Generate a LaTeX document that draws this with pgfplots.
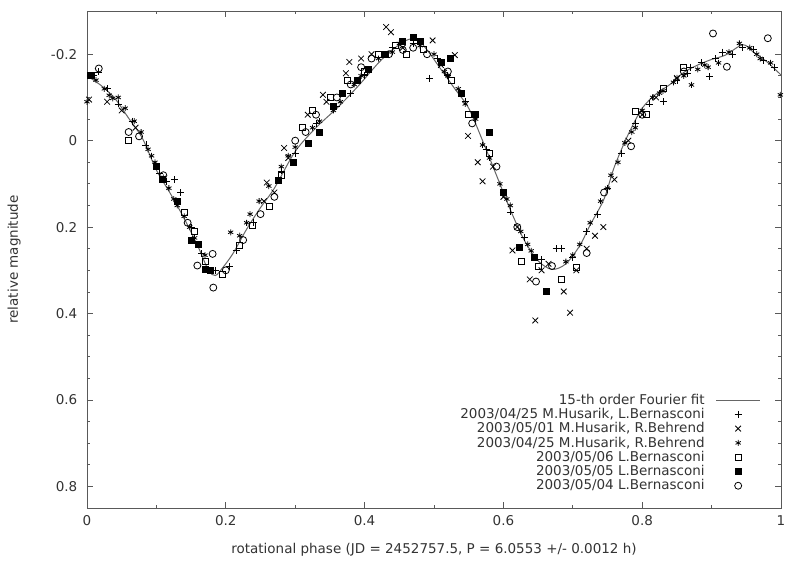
\documentclass[border=0pt]{standalone}
\usepackage{fontspec}
\setmainfont{DejaVu Sans}
\usepackage{pgfplots}
\pgfplotsset{compat=1.18}
\definecolor{txt}{gray}{0.2}
\definecolor{frame}{gray}{0.35}
\definecolor{fitline}{gray}{0.4}

\begin{document}
\fontsize{13.5bp}{16bp}\selectfont
\begin{tikzpicture}
\useasboundingbox (-87bp,-53bp) rectangle (705bp,508bp);
\begin{axis}[
    at={(0,0)}, anchor=south west,
    scale only axis,
    width=694bp, height=497bp,
    xmin=0, xmax=1,
    ymin=-0.3, ymax=0.85,
    y dir=reverse,
    xtick={0,0.2,0.4,0.6,0.8,1},
    xticklabels={0,0.2,0.4,0.6,0.8,1},
    minor x tick num=1,
    ytick={-0.2,0,0.2,0.4,0.6,0.8},
    yticklabels={-0.2,0,0.2,0.4,0.6,0.8},
    minor y tick num=3,
    tick align=inside,
    major tick length=6bp,
    minor tick length=3bp,
    axis line style={frame, line width=0.9bp},
    tick style={frame, line width=0.8bp},
    ticklabel style={text=txt},
    yticklabel style={xshift=-5bp},
    xticklabel style={yshift=-3bp},
    xlabel={rotational phase (JD = 2452757.5, P = 6.0553 +/- 0.0012 h)},
    ylabel={relative magnitude},
    xlabel style={at={(axis description cs:0.5,-0.085)}, anchor=center, text=txt},
    ylabel style={at={(axis description cs:-0.105,0.5)}, anchor=center, text=txt},
    legend plot pos=right,
    legend cell align=right,
    legend style={draw=none, fill=none, inner sep=0pt, row sep=0pt,
        at={(axis description cs:0.971,0.232)}, anchor=north east,
        nodes={inner sep=1bp, text=txt}},
    legend image code/.code={\path (0bp,0bp);
        \draw[mark repeat=2,mark phase=2,#1] plot coordinates {(10bp,0bp) (32bp,0bp) (54bp,0bp)};},
    every axis plot/.append style={line width=0.8bp},
]
% 15-th order Fourier fit
\addplot[fitline, line width=1bp, smooth, tension=0.5, mark=none] coordinates {
(0.00,-0.150) (0.02,-0.128) (0.04,-0.098) (0.06,-0.052) (0.08,-0.005)
(0.10,0.068) (0.12,0.122) (0.14,0.180) (0.16,0.245) (0.175,0.300)
(0.185,0.312) (0.195,0.295) (0.21,0.262) (0.23,0.205) (0.25,0.155)
(0.27,0.110) (0.30,0.025) (0.33,-0.030) (0.36,-0.075) (0.39,-0.125)
(0.42,-0.180) (0.44,-0.210) (0.46,-0.232) (0.475,-0.235) (0.49,-0.210)
(0.51,-0.165) (0.53,-0.120) (0.55,-0.075) (0.57,0.000) (0.59,0.080)
(0.61,0.160) (0.63,0.230) (0.65,0.278) (0.67,0.298) (0.69,0.285)
(0.71,0.243) (0.725,0.195) (0.745,0.135) (0.76,0.060) (0.78,-0.015)
(0.80,-0.075) (0.82,-0.108) (0.84,-0.130) (0.86,-0.158) (0.88,-0.175)
(0.90,-0.188) (0.92,-0.198) (0.945,-0.222) (0.96,-0.205) (0.98,-0.182)
(1.00,-0.152)};
\addlegendentry{15-th order Fourier fit}

% 2003/04/25 M.Husarik, L.Bernasconi
\addplot[only marks, mark=+, mark size=3.5bp, black] coordinates {
(0.010,-0.150) (0.017,-0.159) (0.030,-0.120) (0.045,-0.085) (0.065,-0.045)
(0.085,0.010) (0.105,0.075) (0.126,0.090) (0.135,0.120) (0.150,0.200)
(0.165,0.262) (0.185,0.300) (0.205,0.292) (0.215,0.255) (0.240,0.190)
(0.300,0.030) (0.330,-0.040) (0.360,-0.080) (0.400,-0.150) (0.440,-0.215)
(0.470,-0.225) (0.494,-0.144) (0.520,-0.150) (0.545,-0.090) (0.575,0.020)
(0.600,0.120) (0.630,0.225) (0.655,0.275) (0.676,0.250) (0.683,0.250)
(0.700,0.270) (0.720,0.210) (0.750,0.110) (0.770,0.030) (0.790,-0.040)
(0.810,-0.085) (0.830,-0.090) (0.850,-0.140) (0.870,-0.170) (0.885,-0.180)
(0.897,-0.148) (0.905,-0.190) (0.915,-0.205) (0.930,-0.200) (0.945,-0.215)
(0.960,-0.210) (0.975,-0.185) (0.990,-0.170) (0.115,0.095) (0.280,0.070)
(0.380,-0.110) (0.505,-0.190) (0.610,0.165) (0.735,0.170) (0.865,-0.155)};
\addlegendentry{2003/04/25 M.Husarik, L.Bernasconi}

% 2003/05/01 M.Husarik, R.Behrend
\addplot[only marks, mark=x, mark size=4bp, black] coordinates {
(0.003,-0.095) (0.029,-0.090) (0.050,-0.070) (0.070,-0.030) (0.255,0.140)
(0.259,0.097) (0.270,0.120) (0.284,0.017) (0.290,0.040) (0.318,-0.060)
(0.340,-0.106) (0.345,-0.090) (0.373,-0.156) (0.378,-0.182) (0.395,-0.190)
(0.410,-0.200) (0.431,-0.263) (0.438,-0.251) (0.455,-0.215) (0.498,-0.232)
(0.510,-0.175) (0.530,-0.198) (0.540,-0.110) (0.549,-0.011) (0.563,0.050)
(0.570,0.094) (0.585,0.060) (0.600,0.130) (0.613,0.254) (0.620,0.200)
(0.638,0.321) (0.646,0.416) (0.655,0.300) (0.665,0.285) (0.687,0.349)
(0.696,0.398) (0.705,0.300) (0.720,0.250) (0.732,0.220) (0.744,0.200)
(0.760,0.090) (0.780,0.000) (0.800,-0.060) (0.820,-0.100) (0.850,-0.145)};
\addlegendentry{2003/05/01 M.Husarik, R.Behrend}

% 2003/04/25 M.Husarik, R.Behrend
\addplot[only marks, mark=asterisk, mark size=3bp, black] coordinates {
(0.000,-0.090) (0.013,-0.140) (0.025,-0.120) (0.037,-0.098) (0.045,-0.100)
(0.055,-0.075) (0.068,-0.045) (0.078,-0.020) (0.088,0.020) (0.098,0.050)
(0.110,0.085) (0.118,0.110) (0.130,0.150) (0.140,0.175) (0.148,0.200)
(0.160,0.240) (0.170,0.265) (0.207,0.212) (0.220,0.220) (0.235,0.170)
(0.248,0.140) (0.262,0.105) (0.280,0.060) (0.300,0.015) (0.335,-0.045)
(0.355,-0.070) (0.365,-0.090) (0.385,-0.130) (0.405,-0.165) (0.420,-0.190)
(0.450,-0.225) (0.480,-0.220) (0.500,-0.200) (0.515,-0.160) (0.535,-0.120)
(0.560,-0.050) (0.580,0.040) (0.595,0.100) (0.610,0.150) (0.625,0.210)
(0.640,0.255) (0.690,0.280) (0.710,0.240) (0.725,0.190) (0.740,0.140)
(0.755,0.080) (0.765,0.050) (0.775,0.005) (0.790,-0.030) (0.800,-0.070)
(0.815,-0.100) (0.830,-0.115) (0.845,-0.135) (0.860,-0.150) (0.871,-0.129)
(0.880,-0.165) (0.895,-0.170) (0.910,-0.180) (0.925,-0.205) (0.940,-0.225)
(0.955,-0.215) (0.970,-0.190) (0.985,-0.180) (0.999,-0.106) (0.032,-0.105)
(0.093,0.035) (0.125,0.135) (0.155,0.225) (0.230,0.190) (0.290,0.035)
(0.325,-0.030) (0.395,-0.150) (0.440,-0.205) (0.520,-0.150) (0.545,-0.085)
(0.570,0.010) (0.605,0.135) (0.635,0.240) (0.700,0.265) (0.750,0.110)
(0.785,-0.020) (0.825,-0.110) (0.850,-0.145) (0.890,-0.175) (0.965,-0.200)};
\addlegendentry{2003/04/25 M.Husarik, R.Behrend}

% 2003/05/06 L.Bernasconi
\addplot[only marks, mark=square, mark size=3bp, black] coordinates {
(0.060,0.000) (0.140,0.165) (0.155,0.210) (0.170,0.280) (0.195,0.310)
(0.219,0.243) (0.238,0.197) (0.263,0.151) (0.280,0.080) (0.310,-0.030)
(0.325,-0.070) (0.350,-0.100) (0.375,-0.140) (0.400,-0.160) (0.420,-0.200)
(0.445,-0.220) (0.460,-0.200) (0.485,-0.210) (0.525,-0.140) (0.550,-0.060)
(0.580,0.030) (0.626,0.280) (0.650,0.290) (0.683,0.320) (0.705,0.293)
(0.790,-0.067) (0.806,-0.060) (0.830,-0.120) (0.860,-0.170)};
\addlegendentry{2003/05/06 L.Bernasconi}

% 2003/05/05 L.Bernasconi
\addplot[only marks, mark=square*, mark size=3bp, black] coordinates {
(0.005,-0.150) (0.100,0.060) (0.108,0.090) (0.130,0.140) (0.150,0.231)
(0.160,0.240) (0.171,0.297) (0.178,0.300) (0.276,0.092) (0.297,0.051)
(0.319,0.007) (0.335,-0.020) (0.355,-0.080) (0.368,-0.110) (0.390,-0.140)
(0.405,-0.165) (0.430,-0.200) (0.455,-0.230) (0.470,-0.240) (0.480,-0.230)
(0.510,-0.180) (0.523,-0.190) (0.540,-0.110) (0.560,-0.060) (0.580,-0.020)
(0.600,0.120) (0.623,0.246) (0.645,0.270) (0.662,0.349)};
\addlegendentry{2003/05/05 L.Bernasconi}

% 2003/05/04 L.Bernasconi
\addplot[only marks, mark=o, mark size=3.5bp, black] coordinates {
(0.017,-0.167) (0.060,-0.020) (0.075,-0.010) (0.110,0.080) (0.145,0.190)
(0.159,0.289) (0.181,0.262) (0.182,0.340) (0.200,0.300) (0.225,0.230)
(0.250,0.170) (0.270,0.130) (0.300,0.000) (0.315,-0.020) (0.330,-0.060)
(0.360,-0.100) (0.380,-0.130) (0.395,-0.170) (0.410,-0.190) (0.435,-0.200)
(0.455,-0.210) (0.470,-0.215) (0.490,-0.200) (0.520,-0.160) (0.555,-0.040)
(0.590,0.060) (0.620,0.200) (0.647,0.326) (0.670,0.290) (0.720,0.260)
(0.745,0.120) (0.784,0.013) (0.800,-0.060) (0.860,-0.160) (0.902,-0.248)
(0.922,-0.171) (0.981,-0.237)};
\addlegendentry{2003/05/04 L.Bernasconi}
\end{axis}
\end{tikzpicture}
\end{document}
